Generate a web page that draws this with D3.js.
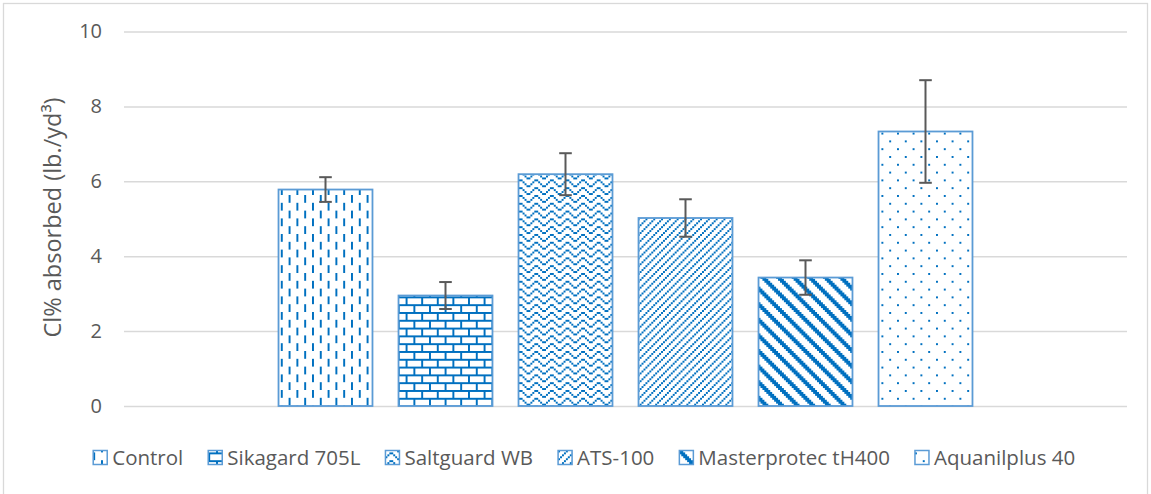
<!DOCTYPE html>
<html>
<head>
<meta charset="utf-8">
<script src="https://cdn.jsdelivr.net/npm/d3@7"></script>
<style>
  html, body { margin: 0; padding: 0; background: #fff; }
  svg { display: block; }
  text { font-family: "Open Sans", "Noto Sans", sans-serif; fill: #595959; }
</style>
</head>
<body>
<svg id="chart" width="1151" height="494"></svg>
<script>
// ---- data ----
const categories = ["Control", "Sikagard 705L", "Saltguard WB", "ATS-100", "Masterprotec tH400", "Aquanilplus 40"];
const values = [5.78, 2.95, 6.19, 5.02, 3.43, 7.33];
const errors = [0.33, 0.36, 0.56, 0.50, 0.46, 1.37];
const yTicks = [0, 2, 4, 6, 8, 10];
const yTitle = "Cl% absorbed (lb./yd³)";

// ---- pattern bitmaps (8x8 cells, style) ----
const patternRows = [
  // dashed vertical
  ["#.......", "#.......", "#.......", "#.......", "....#...", "....#...", "....#...", "....#..."],
  // horizontal brick
  ["########", "#.......", "#.......", "#.......", "########", "....#...", "....#...", "....#..."],
  // wave
  ["..##....", ".#..#...", "#....#..", "......##", "..##....", ".#..#...", "#....#..", "......##"],
  // light upward diagonal
  ["...#...#", "..#...#.", ".#...#..", "#...#...", "...#...#", "..#...#.", ".#...#..", "#...#..."],
  // wide downward diagonal
  ["###.....", ".###....", "..###...", "...###..", "....###.", ".....###", "#.....##", "##.....#"],
  // 5% dots
  ["#.......", "........", "........", "........", "....#...", "........", "........", "........"]
];

const W = 1151, H = 494;
const plotLeft = 124, plotRight = 1127, plotTop = 31.5, plotBottom = 406;
const fg = "#0070C0", barStroke = "#5B9BD5", unit = 1.95;

const svg = d3.select("#chart");
svg.append("rect").attr("x", 3.5).attr("y", 3.5).attr("width", 1144).attr("height", 500)
  .attr("fill", "#fff").attr("stroke", "#d9d9d9").attr("stroke-width", 1.3);

const defs = svg.append("defs");
patternRows.forEach((rows, i) => {
  const p = defs.append("pattern").attr("id", "pat" + i)
    .attr("patternUnits", "userSpaceOnUse").attr("width", 8).attr("height", 8)
    .attr("patternTransform", `scale(${unit})`);
  p.append("rect").attr("width", 8).attr("height", 8).attr("fill", "#fff");
  const cells = [];
  rows.forEach((r, y) => r.split("").forEach((c, x) => { if (c === "#") cells.push([x, y]); }));
  p.selectAll("rect.c").data(cells).join("rect").attr("class", "c")
    .attr("x", d => d[0]).attr("y", d => d[1]).attr("width", 1).attr("height", 1)
    .attr("fill", fg).attr("shape-rendering", "crispEdges");
});

// ---- scales ----
const y = d3.scaleLinear().domain([0, 10]).range([plotBottom, plotTop]);
const center = (plotLeft + plotRight) / 2;
const x = d3.scaleBand().domain(categories)
  .range([center - 360, center + 360])
  .paddingInner(0.217).paddingOuter(0.1085);

// ---- gridlines + tick labels via axis ----
const yAxis = d3.axisLeft(y).tickValues(yTicks).tickFormat(d3.format("d"))
  .tickSize(-(plotRight - plotLeft)).tickPadding(22);
const gAxis = svg.append("g").attr("transform", `translate(${plotLeft},0)`).call(yAxis);
gAxis.select(".domain").remove();
gAxis.selectAll(".tick line").attr("stroke", "#d9d9d9").attr("stroke-width", 1.5);
gAxis.selectAll(".tick text").attr("font-size", 20).attr("fill", "#595959")
  .style("font-family", "'Open Sans', sans-serif");

// ---- bars ----
svg.append("g").selectAll("rect").data(categories).join("rect")
  .attr("x", d => x(d)).attr("width", x.bandwidth())
  .attr("y", (d, i) => y(values[i])).attr("height", (d, i) => y(0) - y(values[i]))
  .attr("fill", (d, i) => `url(#pat${i})`)
  .attr("stroke", barStroke).attr("stroke-width", 1.8);

// ---- error bars ----
const eg = svg.append("g").attr("stroke", "#595959").attr("stroke-width", 2);
categories.forEach((c, i) => {
  const cx = x(c) + x.bandwidth() / 2;
  const yt = y(values[i] + errors[i]), yb = y(values[i] - errors[i]);
  eg.append("line").attr("x1", cx).attr("x2", cx).attr("y1", yt).attr("y2", yb);
  eg.append("line").attr("x1", cx - 6.3).attr("x2", cx + 6.3).attr("y1", yt).attr("y2", yt);
  eg.append("line").attr("x1", cx - 6.3).attr("x2", cx + 6.3).attr("y1", yb).attr("y2", yb);
});

// ---- y title ----
svg.append("text").attr("transform", `translate(61,217.5) rotate(-90)`)
  .attr("text-anchor", "middle").attr("font-size", 23.5).text(yTitle);

// ---- legend ----
const lg = svg.append("g");
const items = lg.selectAll("g").data(categories).join("g");
items.append("rect").attr("y", 450.5).attr("width", 14).attr("height", 14)
  .attr("fill", (d, i) => `url(#pat${i})`).attr("stroke", barStroke).attr("stroke-width", 1.5);
items.append("text").attr("x", 19).attr("y", 465).attr("font-size", 20.5).text(d => d);
let widths = [];
items.each(function() { widths.push(19 + d3.select(this).select("text").node().getComputedTextLength()); });
const gap = 25;
const total = d3.sum(widths) + gap * (widths.length - 1);
let cur = 584.2 - total / 2;
items.attr("transform", (d, i) => { const t = `translate(${cur},0)`; cur += widths[i] + gap; return t; });
</script>
</body>
</html>
